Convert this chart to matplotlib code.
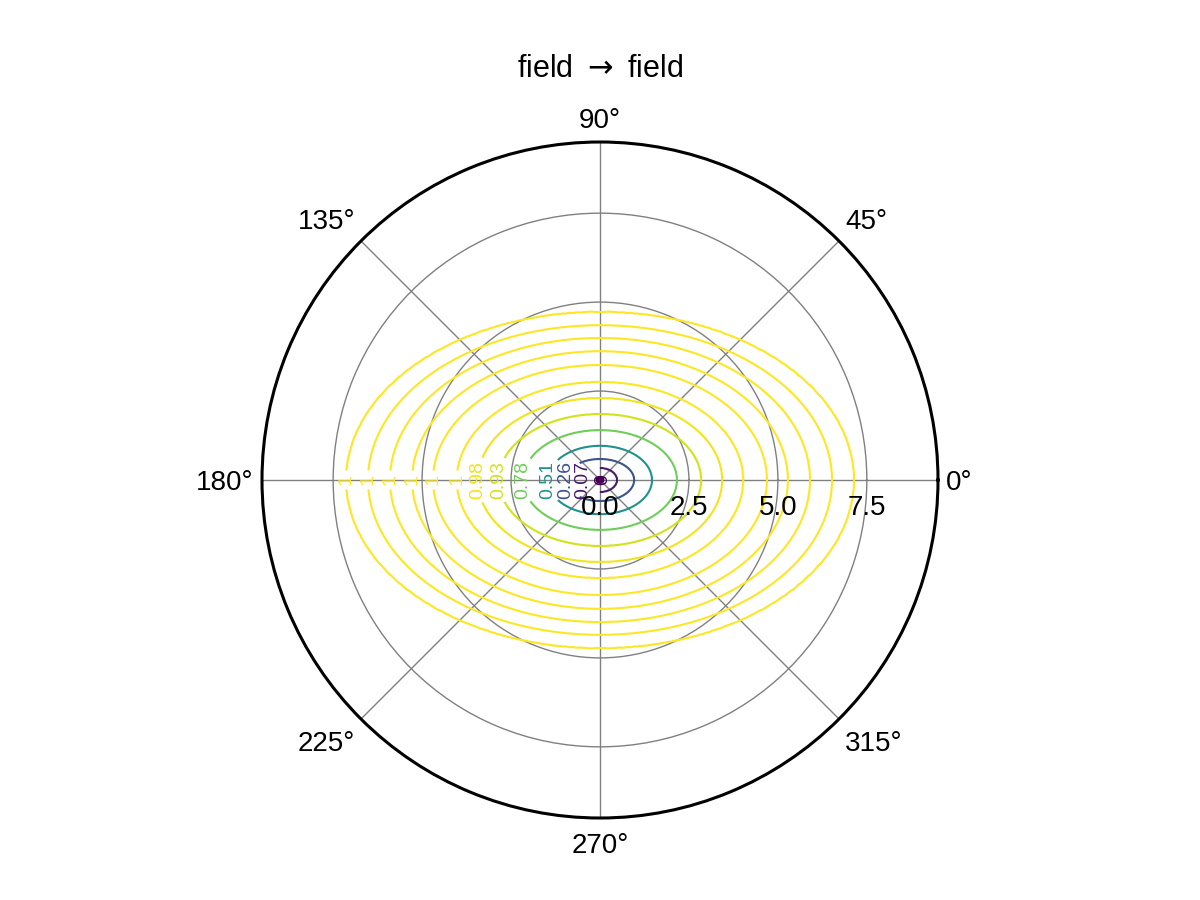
import numpy as np
import matplotlib.pyplot as plt

plt.rcParams['font.family'] = ['Liberation Sans', 'DejaVu Sans']
plt.rcParams['mathtext.fontset'] = 'dejavusans'

# contour levels and their labels, as printed on the chart
levels = [0.003, 0.07, 0.26, 0.51, 0.78, 0.93, 0.98, 0.995, 0.997, 0.998, 0.999, 0.9995, 0.9999]
level_labels = ["0", "0.07", "0.26", "0.51", "0.78", "0.93", "0.98", "1", "1", "1", "1", "1", "1"]
# semi-axes of each contour (data units)
x_radius = [0.08, 0.48, 0.96, 1.46, 2.16, 2.84, 3.43, 4.02, 4.69, 5.28, 5.90, 6.52, 7.13]
y_radius = [0.06, 0.34, 0.59, 0.96, 1.40, 1.85, 2.30, 2.75, 3.23, 3.62, 3.99, 4.35, 4.72]
r_ticks = [0.0, 2.5, 5.0, 7.5]
r_max = 9.5
theta_ticks = [0, 45, 90, 135, 180, 225, 270, 315]

# grid for the contour: the field equals each level on its ellipse
theta = np.linspace(0, 2 * np.pi, 721)
r = np.linspace(0, r_max, 500)
T, R = np.meshgrid(theta, r)
a = np.array(x_radius)[:, None]
b = np.array(y_radius)[:, None]
rad = 1 / np.sqrt(np.cos(theta)[None, :] ** 2 / a ** 2 + np.sin(theta)[None, :] ** 2 / b ** 2)
Z = np.empty_like(T)
for j in range(len(theta)):
    xp = np.concatenate([[0.0], rad[:, j], [r_max + 1]])
    fp = np.concatenate([[0.0], levels, [1.0]])
    Z[:, j] = np.interp(r, xp, fp)

fig = plt.figure(figsize=(12, 9), dpi=100)
ax = fig.add_axes([262 / 1200, 82 / 900, 676 / 1200, 676 / 900], projection='polar')

ax.set_ylim(0, r_max)
ax.set_yticks(r_ticks)
ax.set_yticklabels([])
ax.set_xticks(np.deg2rad(theta_ticks))
ax.set_xticklabels([])
ax.grid(True, color='gray', linewidth=1.0, alpha=1.0)
ax.spines['polar'].set_linewidth(2.2)
ax.spines['polar'].set_color('black')

# angle labels sit just outside the rim, aligned away from the centre
for t in theta_ticks:
    c, s = np.cos(np.deg2rad(t)), np.sin(np.deg2rad(t))
    ha = 'left' if c > 0.1 else ('right' if c < -0.1 else 'center')
    va = 'bottom' if s > 0.1 else ('top' if s < -0.1 else 'center')
    dy = 6 * s
    if s < -0.1:
        dy -= 4.5
    elif abs(s) <= 0.1:
        dy -= 2
    ax.annotate(f"{t}°", xy=(np.deg2rad(t), r_max), xytext=(6 * c, dy),
                textcoords='offset points', ha=ha, va=va, fontsize=20,
                annotation_clip=False)

fmt = dict(zip(levels, level_labels))
cs = ax.contour(T, R, Z, levels=levels[1:], cmap='viridis', vmin=0, vmax=1, linewidths=1.5, zorder=3)
ax.clabel(cs, fmt=fmt, fontsize=14, inline=True, inline_spacing=4,
          manual=[(np.pi, xr) for xr in x_radius[1:]])
cs0 = ax.contour(T, R, Z, levels=levels[:1], cmap='viridis', vmin=0, vmax=1, linewidths=2.5, zorder=3)
ax.clabel(cs0, fmt=fmt, fontsize=14, inline=False, manual=[(0.0, 0.05)])
for t in cs.labelTexts + cs0.labelTexts:
    t.set_rotation(90)

for rt in r_ticks:
    ax.annotate(f"{rt:.1f}", xy=(0, rt), xytext=(0, -25), textcoords='offset points',
                ha='center', va='baseline', fontsize=20, zorder=5)

fig.text(0.5, 1 - 77 / 900, "field $\\rightarrow$ field", ha='center', va='baseline', fontsize=22)

fig.savefig('out.png', dpi=100)
